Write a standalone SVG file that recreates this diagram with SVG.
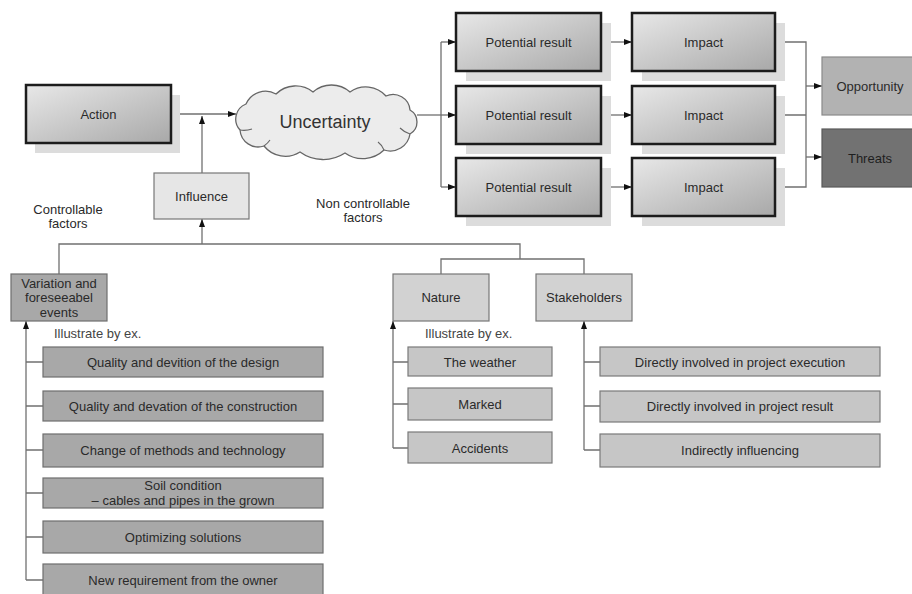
<svg xmlns="http://www.w3.org/2000/svg" width="912" height="594" viewBox="0 0 912 594">
<defs>
<linearGradient id="g" x1="0" y1="0" x2="1" y2="1">
<stop offset="0" stop-color="#e8e8e8"/>
<stop offset="1" stop-color="#a8a8a8"/>
</linearGradient>
<marker id="ah" viewBox="0 0 8 6" refX="8" refY="3" markerWidth="8" markerHeight="6" markerUnits="userSpaceOnUse" orient="auto">
<path d="M0,0 L8,3 L0,6 Z" fill="#111"/>
</marker>
</defs>
<style>
text{font-family:"Liberation Sans",Arial,sans-serif;font-size:13px;fill:#2a2a2a;text-anchor:middle}
.shadow{fill:#dcdcdc}
.main{fill:url(#g);stroke:#1c1c1c;stroke-width:2.5}
.lt{fill:#e6e6e6;stroke:#777;stroke-width:1.2}
.mid{fill:#d2d2d2;stroke:#777;stroke-width:1.2}
.sub{fill:#c6c6c6;stroke:#7a7a7a;stroke-width:1.2}
.dk{fill:#a8a8a8;stroke:#6e6e6e;stroke-width:1.2}
.c{fill:none;stroke:#707070;stroke-width:1.3}
.ca{fill:none;stroke:#707070;stroke-width:1.3;marker-end:url(#ah)}
.lbl{text-anchor:start;fill:#444}
</style>

<g id="connectors">
<path class="ca" d="M171,114 H236"/>
<path class="ca" d="M202,173 V116"/>
<path class="ca" d="M202,244 V219"/>
<path class="c" d="M59,274 V244 H520 V259"/>
<path class="c" d="M441,274 V259 H584 V274"/>
<path class="c" d="M417,115 H441"/>
<path class="c" d="M441,42 V187"/>
<path class="ca" d="M441,42 H456"/>
<path class="ca" d="M441,115 H456"/>
<path class="ca" d="M441,187 H456"/>
<path class="ca" d="M601,42 H632"/>
<path class="ca" d="M601,115 H632"/>
<path class="ca" d="M601,187 H632"/>
<path class="c" d="M775,42 H806 V187 H775 M775,115 H806"/>
<path class="ca" d="M806,86 H822"/>
<path class="ca" d="M806,157 H822"/>
<path class="ca" d="M26,580 V321"/>
<path class="c" d="M26,362 H43 M26,406 H43 M26,450 H43 M26,493 H43 M26,537 H43 M26,580 H43"/>
<path class="ca" d="M393,448 V321"/>
<path class="c" d="M393,362 H408 M393,404 H408 M393,448 H408"/>
<path class="ca" d="M584,450 V321"/>
<path class="c" d="M584,362 H600 M584,406 H600 M584,450 H600"/>
</g>

<g id="action">
<rect class="shadow" x="35" y="95" width="145" height="58"/>
<rect class="main" x="26" y="85" width="145" height="58"/>
<text x="98.5" y="118.5">Action</text>
</g>

<g id="uncertainty">
<path d="M240,130 A16.2,16.2 0 0 1 246,104 A21.4,21.4 0 0 1 276,94 A28,28 0 0 1 313,92 A28,28 0 0 1 350,92 A27,27 0 0 1 386,96 A17,17 0 0 1 410,110 A13.8,13.8 0 0 1 410,134 A20,20 0 0 1 384,150 A30.6,30.6 0 0 1 345,153 A39.6,39.6 0 0 1 300,152 A27.3,27.3 0 0 1 264,146 A18.3,18.3 0 0 1 240,130 Z" fill="#ececec" stroke="#666" stroke-width="1.3"/>
<path d="M240,130 Q246,131 252,129 M264,146 Q268,143 270,140 M384,150 Q382,145 378,142 M410,134 Q404,132 400,128" fill="none" stroke="#666" stroke-width="1.1"/>
<text x="325" y="128" style="font-size:18px;fill:#333">Uncertainty</text>
</g>

<g id="influence">
<rect class="lt" x="154" y="173" width="95" height="46"/>
<text x="201.5" y="200.5">Influence</text>
</g>

<g id="label-controllable">
<text x="68" y="214">Controllable</text>
<text x="68" y="228">factors</text>
</g>
<g id="label-noncontrollable">
<text x="363" y="208">Non controllable</text>
<text x="363" y="222">factors</text>
</g>

<g id="result1">
<rect class="shadow" x="466" y="23" width="145" height="58"/>
<rect class="main" x="456" y="13" width="145" height="58"/>
<text x="528.5" y="46.5">Potential result</text>
</g>
<g id="result2">
<rect class="shadow" x="466" y="96" width="145" height="58"/>
<rect class="main" x="456" y="86" width="145" height="58"/>
<text x="528.5" y="119.5">Potential result</text>
</g>
<g id="result3">
<rect class="shadow" x="466" y="168" width="145" height="58"/>
<rect class="main" x="456" y="158" width="145" height="58"/>
<text x="528.5" y="191.5">Potential result</text>
</g>

<g id="impact1">
<rect class="shadow" x="642" y="23" width="143" height="58"/>
<rect class="main" x="632" y="13" width="143" height="58"/>
<text x="703.5" y="46.5">Impact</text>
</g>
<g id="impact2">
<rect class="shadow" x="642" y="96" width="143" height="58"/>
<rect class="main" x="632" y="86" width="143" height="58"/>
<text x="703.5" y="119.5">Impact</text>
</g>
<g id="impact3">
<rect class="shadow" x="642" y="168" width="143" height="58"/>
<rect class="main" x="632" y="158" width="143" height="58"/>
<text x="703.5" y="191.5">Impact</text>
</g>

<g id="opportunity">
<rect x="822" y="57" width="96" height="58" fill="#b2b2b2" stroke="#8a8a8a" stroke-width="1.2"/>
<text x="870" y="90.5">Opportunity</text>
</g>
<g id="threats">
<rect x="822" y="129" width="96" height="58" fill="#727272" stroke="#5a5a5a" stroke-width="1.2"/>
<text x="870" y="162.5" style="fill:#1e1e1e">Threats</text>
</g>

<g id="variation">
<rect class="dk" x="11" y="274" width="96" height="47"/>
<text x="59" y="288">Variation and</text>
<text x="59" y="302">foreseeabel</text>
<text x="59" y="317">events</text>
</g>
<text class="lbl" x="54" y="337.5">Illustrate by ex.</text>

<g id="design">
<rect class="dk" x="43" y="347" width="280" height="30"/>
<text x="183" y="366.5">Quality and devition of the design</text>
</g>
<g id="construction">
<rect class="dk" x="43" y="391" width="280" height="30"/>
<text x="183" y="410.5">Quality and devation of the construction</text>
</g>
<g id="methods">
<rect class="dk" x="43" y="434" width="280" height="33"/>
<text x="183" y="455">Change of methods and technology</text>
</g>
<g id="soil">
<rect class="dk" x="43" y="478" width="280" height="30"/>
<text x="183" y="489.5">Soil condition</text>
<text x="183" y="504.5">– cables and pipes in the grown</text>
</g>
<g id="optimizing">
<rect class="dk" x="43" y="521" width="280" height="32"/>
<text x="183" y="541.5">Optimizing solutions</text>
</g>
<g id="requirement">
<rect class="dk" x="43" y="564" width="280" height="32"/>
<text x="183" y="584.5">New requirement from the owner</text>
</g>

<g id="nature">
<rect class="mid" x="393" y="274" width="96" height="47"/>
<text x="441" y="302">Nature</text>
</g>
<text class="lbl" x="425" y="337.5">Illustrate by ex.</text>
<g id="weather">
<rect class="sub" x="408" y="347" width="144" height="29"/>
<text x="480" y="366.5">The weather</text>
</g>
<g id="marked">
<rect class="sub" x="408" y="388" width="144" height="32"/>
<text x="480" y="408.5">Marked</text>
</g>
<g id="accidents">
<rect class="sub" x="408" y="432" width="144" height="31"/>
<text x="480" y="452.5">Accidents</text>
</g>

<g id="stakeholders">
<rect class="mid" x="536" y="274" width="96" height="47"/>
<text x="584" y="302">Stakeholders</text>
</g>
<g id="execution">
<rect class="sub" x="600" y="347" width="280" height="29"/>
<text x="740" y="366.5">Directly involved in project execution</text>
</g>
<g id="projresult">
<rect class="sub" x="600" y="391" width="280" height="31"/>
<text x="740" y="411">Directly involved in project result</text>
</g>
<g id="indirect">
<rect class="sub" x="600" y="434" width="280" height="33"/>
<text x="740" y="455">Indirectly influencing</text>
</g>
</svg>
